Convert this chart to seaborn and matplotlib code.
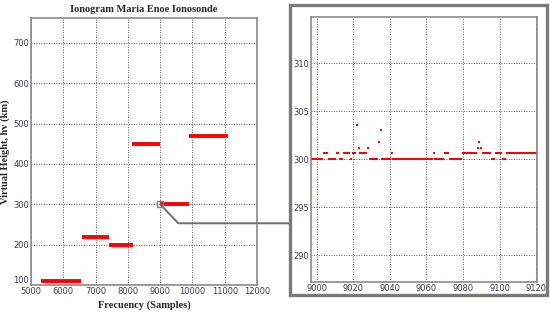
import matplotlib
matplotlib.use("Agg")
import matplotlib.pyplot as plt
import numpy as np
import pandas as pd
import seaborn as sns
from matplotlib.patches import Rectangle

# Ionogram traces: start sample, end sample, height (km)
seg_start = [5300, 6570, 7420, 8130, 9000, 9890]
seg_end = [6560, 7430, 8160, 8990, 9900, 11100]
seg_height = [111, 220, 200, 450, 300, 470]

# Zoomed detail around sample 9000: runs of equal height (first, last, km)
zoom_runs = [
    (8997, 9003, 300.0), (9004, 9006, 300.6), (9007, 9010, 300.0),
    (9011, 9012, 300.6), (9013, 9014, 300.0), (9015, 9018, 300.6),
    (9019, 9019, 300.0), (9020, 9021, 300.6), (9022, 9022, 303.6),
    (9023, 9023, 301.2), (9024, 9027, 300.6), (9028, 9028, 301.2),
    (9029, 9033, 300.0), (9034, 9034, 301.8), (9035, 9035, 303.0),
    (9036, 9040, 300.0), (9041, 9041, 300.6), (9042, 9063, 300.0),
    (9064, 9064, 300.6), (9065, 9069, 300.0), (9070, 9072, 300.6),
    (9073, 9079, 300.0), (9080, 9087, 300.6), (9088, 9088, 301.2),
    (9089, 9089, 301.8), (9090, 9090, 301.2), (9091, 9095, 300.6),
    (9096, 9097, 300.0), (9098, 9101, 300.6), (9102, 9103, 300.0),
    (9104, 9120, 300.6),
]
zoom_x = [s for a, b, h in zoom_runs for s in range(a, b + 1)]
zoom_y = [h for a, b, h in zoom_runs for s in range(a, b + 1)]
zoom = pd.DataFrame({"sample": zoom_x, "height": zoom_y})

left_xticks = list(range(5000, 12001, 1000))
left_yticks = list(range(100, 701, 100))
right_xticks = list(range(9000, 9121, 20))
right_yticks = [290, 295, 300, 305, 310]

sns.set_style("white")
plt.rcParams["font.family"] = ["DejaVu Sans"]

fig = plt.figure(figsize=(5.5, 3.12), dpi=100)
ax1 = fig.add_axes([0.0564, 0.0865, 0.411, 0.856])
ax2 = fig.add_axes([0.5655, 0.096, 0.411, 0.849])

tick_col = "#3a3a55"
for ax in (ax1, ax2):
    ax.grid(True, color="#222222", linestyle=(0, (1, 2)), linewidth=0.6)
    for sp in ax.spines.values():
        sp.set_color("#8a8a8a")
        sp.set_linewidth(1.2)
    ax.tick_params(direction="in", length=2, labelsize=6, colors="#8a8a8a",
                   labelcolor=tick_col, pad=1.5)

# left panel
ax1.hlines(seg_height, seg_start, seg_end, color="red", linewidth=2.8)
ax1.set_xlim(5000, 12000)
ax1.set_ylim(100, 762)
ax1.set_xticks(left_xticks)
ax1.set_yticks(left_yticks)
ax1.get_yticklabels()[0].set_verticalalignment("bottom")
ax1.set_title("Ionogram Maria Enoe Ionosonde", fontsize=7.5, fontweight="bold",
              family="Liberation Serif", pad=4)
ax1.set_xlabel("Frecuency (Samples)", fontsize=7.5, fontweight="bold",
               family="Liberation Serif", labelpad=3)
ax1.set_ylabel("Virtual Height, hv (km)", fontsize=7.5, fontweight="bold",
               family="Liberation Serif", labelpad=2)

# zoom marker and connector
ax1.plot([9000], [300], marker="s", markersize=5, markerfacecolor="none",
         markeredgecolor="#808080", markeredgewidth=1.0, zorder=5)
ax1.plot([9000, 9560, 13030], [300, 253, 253], color="#707070", linewidth=1.4,
         clip_on=False, zorder=4)

# right panel
sns.scatterplot(data=zoom, x="sample", y="height", ax=ax2, color="red",
                marker="s", s=2.5, linewidth=0, legend=False)
ax2.set_xlim(8997, 9120.5)
ax2.set_ylim(287.2, 314.8)
ax2.set_xticks(right_xticks)
ax2.set_yticks(right_yticks)
ax2.set_xlabel("")
ax2.set_ylabel("")

fig.patches.append(Rectangle((0.527, 0.0545), 0.467, 0.929, transform=fig.transFigure,
                             fill=False, edgecolor="#7a7a7a", linewidth=2.4))

fig.savefig("out.png", dpi=100)
